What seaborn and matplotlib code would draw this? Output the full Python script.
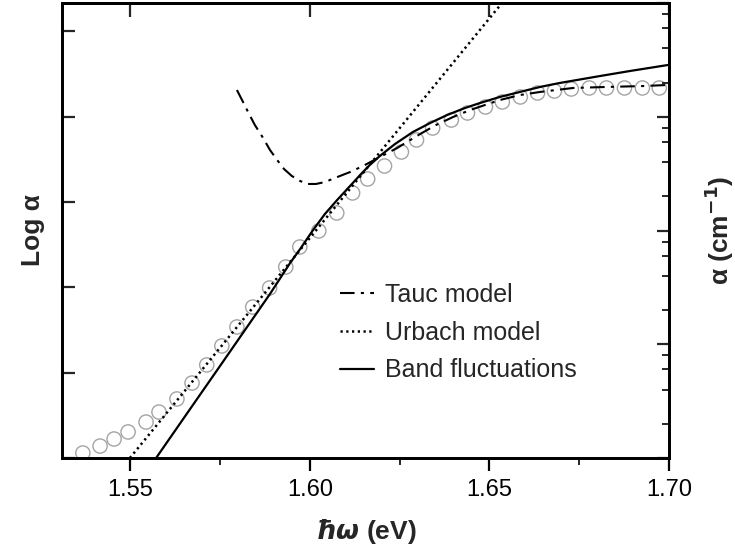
import numpy as np
import pandas as pd
import matplotlib
matplotlib.use("Agg")
import matplotlib.pyplot as plt
import seaborn as sns
from matplotlib.ticker import LogLocator, MultipleLocator, NullFormatter, FixedLocator

# ---------------- data ----------------
# measured absorption (open circles), log10(alpha)
data_x = [1.5368, 1.5416, 1.5455, 1.5494, 1.5544, 1.5580, 1.5630, 1.5672, 1.5713,
          1.5755, 1.5797, 1.5841, 1.5888, 1.5933, 1.5972, 1.6025, 1.6075, 1.6119,
          1.6161, 1.6208, 1.6255, 1.6297, 1.6342, 1.6394, 1.6439, 1.6489, 1.6536,
          1.6586, 1.6634, 1.6681, 1.6728, 1.6778, 1.6826, 1.6876, 1.6926, 1.6973]
data_y = [1.044, 1.105, 1.167, 1.229, 1.316, 1.404, 1.519, 1.659, 1.818,
          1.985, 2.152, 2.327, 2.495, 2.679, 2.855, 2.996, 3.154, 3.330,
          3.453, 3.567, 3.690, 3.796, 3.901, 3.971, 4.033, 4.086, 4.130,
          4.174, 4.209, 4.226, 4.244, 4.253, 4.253, 4.253, 4.253, 4.253]

# Tauc model (dash-dot)
tauc_x = [1.5797, 1.5814, 1.5828, 1.5847, 1.5870, 1.5889, 1.5909, 1.5928, 1.5950,
          1.5973, 1.5995, 1.6017, 1.6042, 1.6070, 1.6112, 1.6148, 1.6195, 1.6243,
          1.6307, 1.6351, 1.6399, 1.6446, 1.6529, 1.6585, 1.6641, 1.6733, 1.6827,
          1.6928, 1.6994]
tauc_y = [4.235, 4.130, 4.042, 3.927, 3.813, 3.708, 3.620, 3.541, 3.479,
          3.435, 3.409, 3.409, 3.426, 3.462, 3.514, 3.567, 3.646, 3.725,
          3.848, 3.927, 3.998, 4.059, 4.147, 4.191, 4.218, 4.253, 4.262,
          4.270, 4.279]

# Urbach model (dotted, straight in log scale)
urbach_x = [1.5499, 1.6535]
urbach_y = [1.0, 5.0]

# Band fluctuations model (solid)
band_x = [1.5572, 1.5661, 1.5750, 1.5833, 1.5889, 1.5945, 1.5973, 1.6009, 1.6042,
          1.6076, 1.6112, 1.6140, 1.6167, 1.6195, 1.6237, 1.6287, 1.6335, 1.6382,
          1.6432, 1.6474, 1.6529, 1.6585, 1.6641, 1.6696, 1.6808, 1.6891, 1.6997]
band_y = [1.000, 1.405, 1.809, 2.187, 2.442, 2.714, 2.837, 3.004, 3.145,
          3.268, 3.391, 3.488, 3.576, 3.655, 3.760, 3.866, 3.945, 4.015,
          4.077, 4.121, 4.174, 4.218, 4.262, 4.297, 4.358, 4.402, 4.455]

x_ticks = [1.55, 1.60, 1.65, 1.70]
x_tick_labels = ["1.55", "1.60", "1.65", "1.70"]
legend_labels = ["Tauc model", "Urbach model", "Band fluctuations"]

# ---------------- figure ----------------
sns.set_theme(style="ticks")
plt.rcParams["font.family"] = ["Liberation Sans", "DejaVu Sans"]

W, H = 735, 555
fig = plt.figure(figsize=(W / 100, H / 100), dpi=100)
ax = fig.add_axes([62 / W, 97 / H, 607 / W, 455 / H])

sns.scatterplot(x=data_x, y=data_y, ax=ax, marker="o", s=105,
                facecolor="none", edgecolor="#a4a4a4", linewidth=1.0, zorder=2)

sns.lineplot(x=tauc_x, y=tauc_y, ax=ax, color="black", lw=1.5, sort=False,
             linestyle=(0, (7, 3, 1.5, 3)), label=legend_labels[0], zorder=3)
sns.lineplot(x=urbach_x, y=urbach_y, ax=ax, color="black", lw=1.8, sort=False,
             linestyle=(0, (0.9, 1.4)), label=legend_labels[1], zorder=3)
sns.lineplot(x=band_x, y=band_y, ax=ax, color="black", lw=1.6, sort=False,
             linestyle="-", label=legend_labels[2], zorder=3)

ax.set_xlim(1.531, 1.70)
ax.set_ylim(1, 5)

# x axis ticks (bottom, outward) with minors
ax.set_xticks(x_ticks)
ax.set_xticklabels(x_tick_labels, fontsize=17)
ax.xaxis.set_minor_locator(MultipleLocator(0.025))
ax.tick_params(axis="x", which="major", direction="out", length=9, width=1.6,
               pad=6, colors="black", top=False)
ax.tick_params(axis="x", which="minor", direction="out", length=5, width=1.4, top=False)

# top ticks inward
axt = ax.secondary_xaxis("top")
axt.set_xticks(x_ticks)
axt.tick_params(axis="x", which="major", direction="in", length=10, width=1.6,
                labeltop=False)
axt.xaxis.set_minor_locator(FixedLocator([]))
axt.spines["top"].set_linewidth(2.0)

# left ticks inward, no labels
ax.set_yticks(np.arange(1, 5, 0.75))
ax.tick_params(axis="y", which="major", direction="in", length=9.5, width=1.6,
               labelleft=False, right=False)

# right log axis
ax2 = ax.twinx()
ax2.set_yscale("log")
ax2.set_ylim(10, 1e5)
ax2.yaxis.set_major_locator(LogLocator(base=10))
ax2.yaxis.set_minor_locator(LogLocator(base=10, subs=(2, 4, 6, 8)))
ax2.yaxis.set_minor_formatter(NullFormatter())
ax2.tick_params(axis="y", which="major", direction="in", length=9, width=1.6,
                labelright=False)
ax2.tick_params(axis="y", which="minor", direction="in", length=5, width=1.4)

for a in (ax, ax2):
    for sp in a.spines.values():
        sp.set_linewidth(2.0)
        sp.set_color("black")

ax.set_ylabel("Log α", fontsize=19, fontweight="bold", labelpad=12)
ax2.set_ylabel(r"α (cm$^{\mathbf{-1}}$)", fontsize=19, fontweight="bold",
               labelpad=21, rotation=90)
ax.set_xlabel(r"$\mathbfit{\hbar\omega}$ (eV)", fontsize=19, fontweight="bold",
              labelpad=12)

ax.legend(loc="upper left", bbox_to_anchor=(0.458, 0.385), frameon=False,
          fontsize=18, handlelength=1.35, handletextpad=0.45, labelspacing=0.55,
          borderpad=0, borderaxespad=0)

fig.savefig("out.png", dpi=100)
